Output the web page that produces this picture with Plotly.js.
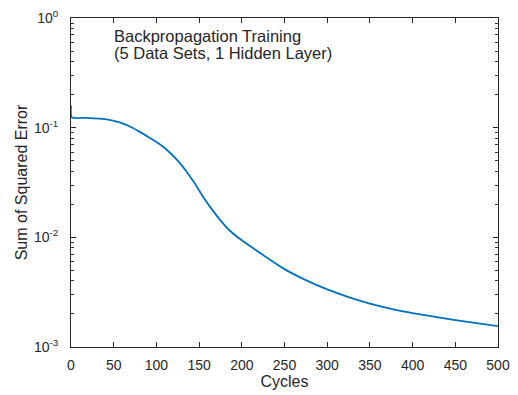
<!DOCTYPE html>
<html>
<head>
<meta charset="utf-8">
<script src="https://cdn.plot.ly/plotly-3.0.1.min.js"></script>
<style>html,body{margin:0;padding:0;background:#fff;}#chart{width:518px;height:395px;}</style>
</head>
<body>
<div id="chart"></div>
<script>
// Data
const cycles = [0, 1, 18, 33, 45, 57, 68.5, 80, 92, 104, 115, 127, 135, 145, 155, 165, 175, 187, 200, 225, 250, 275, 300, 325, 350, 375, 400, 425, 450, 475, 500];
const sse = [0.159, 0.124, 0.123, 0.121, 0.118, 0.112, 0.103, 0.092, 0.081, 0.0705, 0.060, 0.048, 0.0400, 0.0309, 0.0232, 0.0180, 0.0143, 0.0113, 0.0094, 0.0069, 0.00513, 0.00407, 0.00335, 0.00285, 0.00249, 0.00223, 0.00204, 0.00189, 0.00176, 0.00165, 0.00155];

const xTicks = [0, 50, 100, 150, 200, 250, 300, 350, 400, 450, 500];
const yTickVals = [0.001, 0.01, 0.1, 1];
const yTickText = ['10<sup>-3</sup>', '10<sup>-2</sup>', '10<sup>-1</sup>', '10<sup>0</sup>'];
const titleLines = ['Backpropagation Training', '(5 Data Sets, 1 Hidden Layer)'];

// minor log ticks (2..9 within each decade)
const minorVals = [];
yTickVals.slice(0, -1).forEach(d => { for (let k = 2; k <= 9; k++) minorVals.push(d * k); });

const axisColor = '#262626';
const font = {family: 'Liberation Sans, Arial, sans-serif', color: axisColor};

const trace = {
  x: cycles, y: sse, type: 'scatter', mode: 'lines',
  line: {color: '#0072BD', width: 1.8, shape: 'spline', smoothing: 0.6},
  hoverinfo: 'skip'
};
// invisible companion trace so the minor-tick axis is drawn
const ghost = {
  x: cycles, y: sse, type: 'scatter', mode: 'lines', yaxis: 'y2',
  line: {width: 0}, opacity: 0, hoverinfo: 'skip'
};

const layout = {
  width: 518, height: 395,
  margin: {l: 71, r: 20, t: 18, b: 48},
  paper_bgcolor: '#fff', plot_bgcolor: '#fff',
  showlegend: false,
  font: Object.assign({size: 14}, font),
  xaxis: {
    range: [0, 500], tickvals: xTicks, ticktext: xTicks.map(String),
    showgrid: false, zeroline: false,
    showline: true, linecolor: axisColor, linewidth: 1, mirror: 'ticks',
    ticks: 'inside', ticklen: 5, tickcolor: axisColor, tickwidth: 1,
    ticklabelstandoff: 5,
    tickfont: Object.assign({size: 14}, font),
    title: {text: 'Cycles', font: Object.assign({size: 16}, font), standoff: 3}
  },
  yaxis: {
    type: 'log', range: [-3, 0],
    tickvals: yTickVals, ticktext: yTickText,
    showgrid: false, zeroline: false,
    showline: true, linecolor: axisColor, linewidth: 1, mirror: 'ticks',
    ticks: 'inside', ticklen: 5, tickcolor: axisColor, tickwidth: 1,
    ticklabelstandoff: 9,
    tickfont: Object.assign({size: 14}, font),
    title: {text: 'Sum of Squared Error', font: Object.assign({size: 16}, font), standoff: 2}
  },
  yaxis2: {
    type: 'log', range: [-3, 0], overlaying: 'y', anchor: 'x', side: 'left',
    tickmode: 'array', tickvals: minorVals, showticklabels: false,
    showgrid: false, zeroline: false,
    showline: true, linecolor: axisColor, linewidth: 1, mirror: 'ticks',
    ticks: 'inside', ticklen: 3, tickcolor: '#333', tickwidth: 1
  },
  annotations: [
    {text: titleLines[0], xref: 'paper', yref: 'paper', x: 0.095, y: 0.945, xanchor: 'left', yanchor: 'middle', showarrow: false, font: Object.assign({size: 16.5}, font)},
    {text: titleLines[1], xref: 'paper', yref: 'paper', x: 0.095, y: 0.895, xanchor: 'left', yanchor: 'middle', showarrow: false, font: Object.assign({size: 16.5}, font)}
  ]
};

Plotly.newPlot('chart', [trace, ghost], layout, {displayModeBar: false, staticPlot: true});
</script>
</body>
</html>
